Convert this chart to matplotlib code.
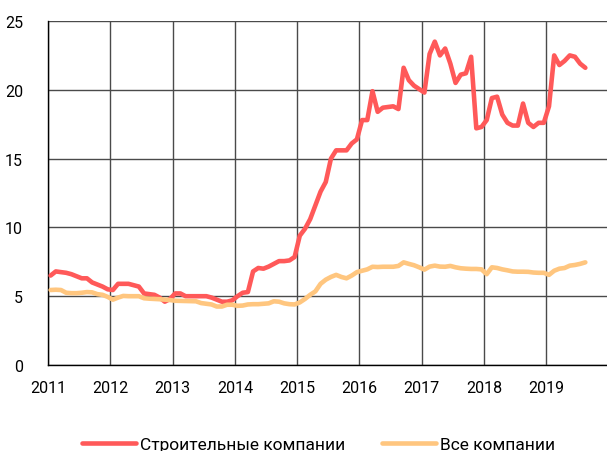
import matplotlib
matplotlib.use("Agg")
import matplotlib.pyplot as plt
import numpy as np

start_year = 2011
construction = [6.5, 6.8, 6.75, 6.7, 6.6, 6.45, 6.3, 6.3, 6.0, 5.85, 5.7, 5.5,
                5.45, 5.9, 5.9, 5.9, 5.8, 5.7, 5.2, 5.15, 5.1, 4.9, 4.6, 4.8,
                5.2, 5.2, 5.0, 5.0, 5.0, 5.0, 5.0, 4.9, 4.75, 4.6, 4.6, 4.7,
                5.0, 5.25, 5.3, 6.8, 7.05, 7.0, 7.15, 7.35, 7.55, 7.55, 7.6, 7.85,
                9.4, 9.9, 10.6, 11.6, 12.6, 13.3, 15.0, 15.6, 15.6, 15.6, 16.1, 16.4,
                17.8, 17.8, 19.9, 18.4, 18.7, 18.75, 18.8, 18.6, 21.6, 20.7, 20.3, 20.05,
                19.8, 22.6, 23.5, 22.5, 23.0, 21.9, 20.5, 21.1, 21.2, 22.4, 17.2, 17.3,
                17.8, 19.4, 19.5, 18.2, 17.6, 17.4, 17.4, 19.0, 17.6, 17.3, 17.6, 17.6,
                18.8, 22.5, 21.8, 22.1, 22.5, 22.4, 21.9, 21.6]
all_companies = [5.45, 5.47, 5.45, 5.25, 5.22, 5.22, 5.25, 5.3, 5.28, 5.15, 5.1, 4.95,
                 4.75, 4.9, 5.02, 5.0, 5.0, 5.0, 4.85, 4.82, 4.8, 4.78, 4.75, 4.72,
                 4.67, 4.66, 4.65, 4.64, 4.63, 4.5, 4.45, 4.4, 4.25, 4.25, 4.38, 4.38,
                 4.3, 4.32, 4.4, 4.42, 4.42, 4.45, 4.48, 4.63, 4.6, 4.48, 4.42, 4.4,
                 4.55, 4.8, 5.1, 5.35, 5.9, 6.2, 6.4, 6.55, 6.4, 6.3, 6.5, 6.75,
                 6.85, 6.95, 7.14, 7.12, 7.14, 7.14, 7.14, 7.2, 7.46, 7.35, 7.25, 7.1,
                 6.93, 7.15, 7.22, 7.15, 7.14, 7.2, 7.1, 7.03, 7.0, 6.98, 6.98, 6.95,
                 6.6, 7.1, 7.05, 6.95, 6.88, 6.8, 6.78, 6.78, 6.77, 6.72, 6.7, 6.7,
                 6.55, 6.85, 7.0, 7.05, 7.22, 7.27, 7.35, 7.46]
year_ticks = [2011, 2012, 2013, 2014, 2015, 2016, 2017, 2018, 2019]
y_ticks = [0, 5, 10, 15, 20, 25]
labels = ["Строительные компании", "Все компании"]

x = start_year + (np.arange(len(construction)) + 0.5) / 12

plt.rcParams['font.family'] = ['Roboto', 'DejaVu Sans']
fig = plt.figure(figsize=(6.07, 4.52), dpi=100)
ax = fig.add_axes([48/607, 86/452, 560.7/607, 344/452])

ax.plot(x, construction, color="#FF5959", lw=3.3, solid_capstyle="round",
        solid_joinstyle="round", label=labels[0], zorder=3)
ax.plot(x, all_companies, color="#FFC67F", lw=3.3, solid_capstyle="round",
        solid_joinstyle="round", label=labels[1], zorder=3)

ax.set_xlim(2011, 2020)
ax.set_ylim(0, 25)
ax.set_xticks(year_ticks)
ax.set_yticks(y_ticks)
ax.grid(True, color="#4a4a4a", lw=1.0)
ax.set_axisbelow(True)
for s in ["top", "right"]:
    ax.spines[s].set_visible(False)
for s in ["left", "bottom"]:
    ax.spines[s].set_color("black")
    ax.spines[s].set_linewidth(1.0)
ax.tick_params(length=0, labelsize=11.5, colors="black")
ax.tick_params(axis="x", pad=11)
ax.tick_params(axis="y", pad=18)

fig.legend(loc="lower center", bbox_to_anchor=(0.525, -0.036), ncol=2,
           frameon=False, fontsize=12.5, handlelength=3.1, handletextpad=0.25,
           columnspacing=2.1)

fig.savefig("out.png", dpi=100)
